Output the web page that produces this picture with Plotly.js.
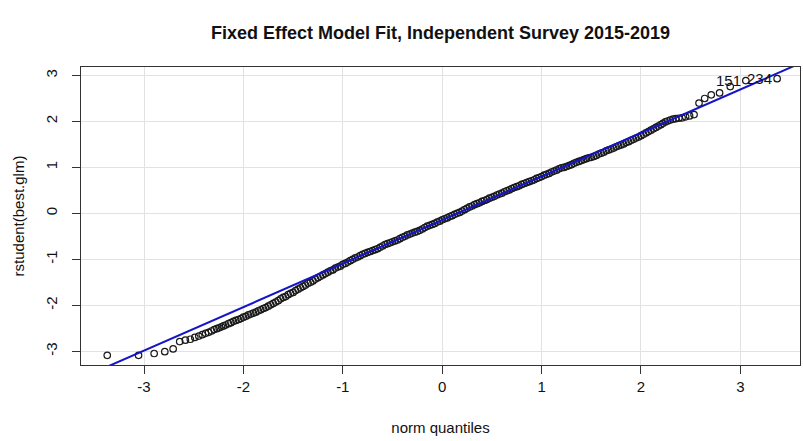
<!DOCTYPE html>
<html>
<head>
<meta charset="utf-8">
<script src="https://cdn.plot.ly/plotly-3.0.1.min.js"></script>
<style>
  html, body { margin: 0; padding: 0; background: #ffffff; }
  #chart { width: 803px; height: 441px; }
</style>
</head>
<body>
<div id="chart"></div>
<script>
// Theoretical normal quantiles (x) and studentized residuals (y)
const lowerTailX = [-3.37, -3.055, -2.898, -2.791, -2.707, -2.641, -2.584, -2.534, -2.489, -2.449,
  -2.414, -2.381, -2.35, -2.321, -2.294, -2.268, -2.245, -2.221, -2.2, -2.179];
const lowerTailY = [-3.09, -3.09, -3.05, -3.01, -2.95, -2.79, -2.76, -2.74, -2.70, -2.67,
  -2.64, -2.61, -2.59, -2.56, -2.53, -2.51, -2.49, -2.47, -2.45, -2.43];

const middleX = [
  -2.15, -2.125, -2.1, -2.075, -2.05, -2.025, -2, -1.975, -1.95, -1.925,
  -1.9, -1.875, -1.85, -1.825, -1.8, -1.775, -1.75, -1.725, -1.7, -1.675,
  -1.65, -1.625, -1.6, -1.575, -1.55, -1.525, -1.5, -1.475, -1.45, -1.425,
  -1.4, -1.375, -1.35, -1.325, -1.3, -1.275, -1.25, -1.225, -1.2, -1.175,
  -1.15, -1.125, -1.1, -1.075, -1.05, -1.025, -1, -0.975, -0.95, -0.925,
  -0.9, -0.875, -0.85, -0.825, -0.8, -0.775, -0.75, -0.725, -0.7, -0.675,
  -0.65, -0.625, -0.6, -0.575, -0.55, -0.525, -0.5, -0.475, -0.45, -0.425,
  -0.4, -0.375, -0.35, -0.325, -0.3, -0.275, -0.25, -0.225, -0.2, -0.175,
  -0.15, -0.125, -0.1, -0.075, -0.05, -0.025, 0, 0.025, 0.05, 0.075,
  0.1, 0.125, 0.15, 0.175, 0.2, 0.225, 0.25, 0.275, 0.3, 0.325,
  0.35, 0.375, 0.4, 0.425, 0.45, 0.475, 0.5, 0.525, 0.55, 0.575,
  0.6, 0.625, 0.65, 0.675, 0.7, 0.725, 0.75, 0.775, 0.8, 0.825,
  0.85, 0.875, 0.9, 0.925, 0.95, 0.975, 1, 1.025, 1.05, 1.075,
  1.1, 1.125, 1.15, 1.175, 1.2, 1.225, 1.25, 1.275, 1.3, 1.325,
  1.35, 1.375, 1.4, 1.425, 1.45, 1.475, 1.5, 1.525, 1.55, 1.575,
  1.6, 1.625, 1.65, 1.675, 1.7, 1.725, 1.75, 1.775, 1.8, 1.825,
  1.85, 1.875, 1.9, 1.925, 1.95, 1.975, 2, 2.025, 2.05, 2.075,
  2.1, 2.125, 2.15, 2.175, 2.2];
const middleY = [
  -2.40, -2.38, -2.35, -2.33, -2.31, -2.29, -2.26, -2.24, -2.21, -2.19,
  -2.17, -2.15, -2.12, -2.10, -2.07, -2.05, -2.02, -1.99, -1.96, -1.93,
  -1.90, -1.86, -1.83, -1.81, -1.77, -1.74, -1.72, -1.68, -1.65, -1.62,
  -1.59, -1.56, -1.52, -1.50, -1.47, -1.43, -1.40, -1.37, -1.34, -1.31,
  -1.28, -1.25, -1.23, -1.19, -1.17, -1.15, -1.11, -1.09, -1.06, -1.03,
  -1.00, -0.97, -0.95, -0.92, -0.89, -0.87, -0.85, -0.83, -0.81, -0.79,
  -0.77, -0.74, -0.71, -0.68, -0.66, -0.64, -0.62, -0.60, -0.58, -0.55,
  -0.52, -0.50, -0.47, -0.45, -0.43, -0.41, -0.39, -0.37, -0.34, -0.31,
  -0.28, -0.26, -0.24, -0.22, -0.19, -0.17, -0.14, -0.12, -0.10, -0.07,
  -0.05, -0.02, 0.00, 0.02, 0.05, 0.08, 0.11, 0.14, 0.16, 0.19,
  0.21, 0.23, 0.26, 0.28, 0.30, 0.33, 0.35, 0.37, 0.40, 0.42,
  0.44, 0.47, 0.49, 0.51, 0.54, 0.56, 0.58, 0.60, 0.63, 0.65,
  0.67, 0.69, 0.71, 0.73, 0.76, 0.78, 0.80, 0.83, 0.85, 0.87,
  0.90, 0.92, 0.94, 0.97, 0.99, 1.00, 1.02, 1.04, 1.06, 1.09,
  1.11, 1.13, 1.15, 1.17, 1.19, 1.21, 1.22, 1.24, 1.26, 1.29,
  1.31, 1.33, 1.36, 1.38, 1.40, 1.42, 1.45, 1.47, 1.49, 1.51,
  1.54, 1.56, 1.59, 1.61, 1.64, 1.66, 1.69, 1.72, 1.75, 1.78,
  1.81, 1.84, 1.87, 1.90, 1.93];

const upperTailX = [2.221, 2.245, 2.268, 2.294, 2.321, 2.35, 2.381, 2.414, 2.449, 2.489,
  2.534, 2.584, 2.641, 2.707, 2.791, 2.898, 3.055, 3.37];
const upperTailY = [1.96, 1.99, 2.01, 2.03, 2.05, 2.06, 2.07, 2.08, 2.10, 2.12,
  2.15, 2.40, 2.50, 2.58, 2.62, 2.76, 2.89, 2.93];

// Labelled observations
const labelX = [3.055, 3.37];
const labelY = [2.89, 2.93];
const labelText = ["151", "234"];

// Reference line endpoints (read from where it crosses the frame)
const refLineX = [-3.8, 3.8];
const refLineY = [-3.744, 3.454];

const tickVals = [-3, -2, -1, 0, 1, 2, 3];
const tickText = ["-3", "-2", "-1", "0", "1", "2", "3"];

const qqX = lowerTailX.concat(middleX, upperTailX);
const qqY = lowerTailY.concat(middleY, upperTailY);

const FONT = "'Liberation Sans', Arial, sans-serif";

const traces = [
  {
    type: "scatter", mode: "markers", x: qqX, y: qqY,
    marker: { symbol: "circle-open", size: 6.5, color: "#1a1a1a", line: { width: 1.2 } },
    hoverinfo: "skip", showlegend: false
  },
  {
    type: "scatter", mode: "lines", x: refLineX, y: refLineY,
    line: { color: "#1414c8", width: 2 },
    hoverinfo: "skip", showlegend: false
  }
];

const annotations = labelText.map((t, i) => ({
  x: labelX[i], y: labelY[i], xref: "x", yref: "y",
  text: t, showarrow: false, xanchor: "right", yanchor: "middle",
  xshift: -3, font: { family: FONT, size: 15, color: "#111111" }
}));

const axisCommon = {
  showgrid: true, gridcolor: "#e2e2e2", gridwidth: 1,
  zeroline: false,
  showline: true, mirror: true, linecolor: "#333333", linewidth: 1,
  ticks: "outside", ticklen: 8, tickwidth: 1, tickcolor: "#333333",
  tickfont: { family: FONT, size: 15, color: "#111111" },
  tickvals: tickVals, ticktext: tickText,
  fixedrange: true
};

const layout = {
  width: 803, height: 441,
  margin: { l: 81, r: 3, t: 67, b: 76, pad: 0 },
  paper_bgcolor: "#ffffff", plot_bgcolor: "#ffffff",
  font: { family: FONT, color: "#111111" },
  title: {
    text: "<b>Fixed Effect Model Fit, Independent Survey 2015-2019</b>",
    font: { family: FONT, size: 18, color: "#111111" },
    x: 0.5, xref: "paper", xanchor: "center",
    y: 1 - 32.5 / 441, yref: "container", yanchor: "middle"
  },
  annotations: annotations,
  xaxis: Object.assign({}, axisCommon, {
    range: [-3.634, 3.60],
    title: { text: "norm quantiles", font: { family: FONT, size: 15, color: "#111111" }, standoff: 28 },
    automargin: false
  }),
  yaxis: Object.assign({}, axisCommon, {
    range: [-3.30, 3.185],
    tickangle: -90,
    ticklabelstandoff: 9,
    title: { text: "rstudent(best.glm)", font: { family: FONT, size: 15, color: "#111111" }, standoff: 14 },
    automargin: false
  })
};

Plotly.newPlot("chart", traces, layout, { displayModeBar: false, staticPlot: true });
</script>
</body>
</html>
